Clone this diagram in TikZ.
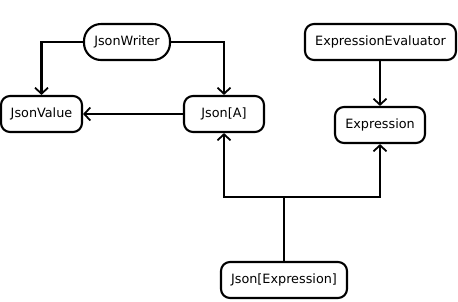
\documentclass[tikz,border=0pt]{standalone}
\usepackage{fontspec}
\setmainfont{DejaVu Sans}
\usetikzlibrary{arrows.meta}
\begin{document}
\begin{tikzpicture}[x=1pt,y=-1pt,
  box/.style={draw, line width=2.1pt, rounded corners=9pt, minimum height=36pt,
    inner sep=0pt, font=\fontsize{12.8}{15}\selectfont, fill=white},
  pill/.style={box, rounded corners=17pt},
  link/.style={line width=2.2pt, -{Straight Barb[length=6pt,width=13pt,line width=1.8pt]}},
  plain/.style={line width=2.4pt}]
\useasboundingbox (0,0) rectangle (458,301);
\node[pill, minimum width=86pt] (writer) at (127,42) {JsonWriter};
\node[box, minimum width=81pt] (value) at (41.5,114) {JsonValue};
\node[box, minimum width=80pt] (jsona) at (224,114) {Json[A]};
\node[box, minimum width=151pt] (evaluator) at (380.5,42) {ExpressionEvaluator};
\node[box, minimum width=90pt] (expr) at (380,125) {Expression};
\node[box, minimum width=126pt] (jsonexpr) at (284,280) {Json[Expression]};
\coordinate (split) at (284,197);
\draw[link] (writer.west) -| (value.north);
\draw[link] (writer.east) -| (jsona.north);
\draw[link] (jsona.west) -- (value.east);
\draw[link] (evaluator.south -| expr.north) -- (expr.north);
\draw[plain] (jsonexpr.north) -- (split);
\draw[link] (split) -| (jsona.south);
\draw[link] (split) -| (expr.south);
\end{tikzpicture}
\end{document}
